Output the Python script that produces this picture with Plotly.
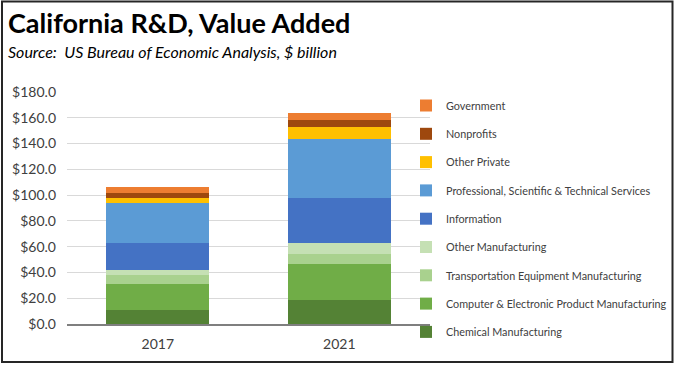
import plotly.graph_objects as go

years = ["2017", "2021"]
series_names = [
    "Chemical Manufacturing",
    "Computer & Electronic Product Manufacturing",
    "Transportation Equipment Manufacturing",
    "Other Manufacturing",
    "Information",
    "Professional, Scientific & Technical Services",
    "Other Private",
    "Nonprofits",
    "Government",
]
chemical = [11.1, 18.6]
computer = [20.2, 28.2]
transport = [6.5, 7.5]
other_mfg = [4.4, 8.3]
information = [21.0, 34.9]
professional = [30.3, 46.0]
other_private = [3.9, 9.0]
nonprofits = [4.4, 5.7]
government = [4.7, 5.2]
series_values = [chemical, computer, transport, other_mfg, information,
                 professional, other_private, nonprofits, government]
colors = ["#548235", "#70AD47", "#A9D18E", "#C5E0B4", "#4472C4",
          "#5B9BD5", "#FFC000", "#9E480E", "#ED7D31"]
y_ticks = [0, 20, 40, 60, 80, 100, 120, 140, 160, 180]
y_tick_labels = ["$" + f"{v:.1f}" for v in y_ticks]

W, H = 675, 366
L, R, T, B = 67, 245, 92, 42
pw = W - L - R
ph = H - T - B

def px_x(p):
    return (p - L) / pw

def px_y(p):
    return (H - B - p) / ph

fig = go.Figure()
n = len(series_names)
for i, (name, vals, col) in enumerate(zip(series_names, series_values, colors)):
    fig.add_trace(go.Bar(
        x=years, y=vals, name=name, marker=dict(color=col, line=dict(width=0)),
        legendgroup=name, legendrank=n - i,
    ))

font_family = "Lato, 'Open Sans', sans-serif"

fig.update_layout(
    width=W, height=H,
    margin=dict(l=L, r=R, t=T, b=B, autoexpand=False),
    barmode="stack",
    bargap=0.433,
    plot_bgcolor="white",
    paper_bgcolor="white",
    font=dict(family=font_family, color="#404040"),
    legend=dict(
        traceorder="grouped",
        tracegroupgap=9.3,
        font=dict(size=10.8, color="#404040", family=font_family),
        x=406 / W, xref="container", xanchor="left",
        y=1 - 91 / H, yref="container", yanchor="top",
        bgcolor="rgba(0,0,0,0)",
        maxheight=320,
    ),
    showlegend=True,
    xaxis=dict(
        showline=True, linecolor="#7f7f7f", linewidth=2,
        ticks="", tickfont=dict(size=14, color="#404040"),
        showgrid=False, automargin=False, ticklabelstandoff=6,
    ),
    yaxis=dict(
        range=[0, 180], tickvals=y_ticks, ticktext=y_tick_labels,
        showgrid=True, gridcolor="#d9d9d9", gridwidth=1,
        zeroline=False, showline=False, ticks="",
        tickfont=dict(size=14, color="#404040"),
        ticklabelstandoff=10, automargin=False,
    ),
    annotations=[
        dict(
            text="<b>California R&D, Value Added</b>",
            xref="paper", yref="paper", x=px_x(6), y=px_y(22),
            xanchor="left", yanchor="middle", showarrow=False,
            font=dict(size=27, color="#000000", family=font_family),
        ),
        dict(
            text="<i>Source:  US Bureau of Economic Analysis, $ billion</i>",
            xref="paper", yref="paper", x=px_x(6), y=px_y(51),
            xanchor="left", yanchor="middle", showarrow=False,
            font=dict(size=16, color="#000000", family=font_family),
        ),
    ],
    shapes=[dict(
        type="rect", xref="paper", yref="paper",
        x0=px_x(2), x1=px_x(672.5), y0=px_y(362), y1=px_y(1.5),
        line=dict(color="#262626", width=2), fillcolor="rgba(0,0,0,0)",
        layer="above",
    )],
)

fig.write_html(
    "out.html",
    config={"displayModeBar": False},
    post_script="document.body.style.margin='0';document.body.style.overflow='hidden';",
)
